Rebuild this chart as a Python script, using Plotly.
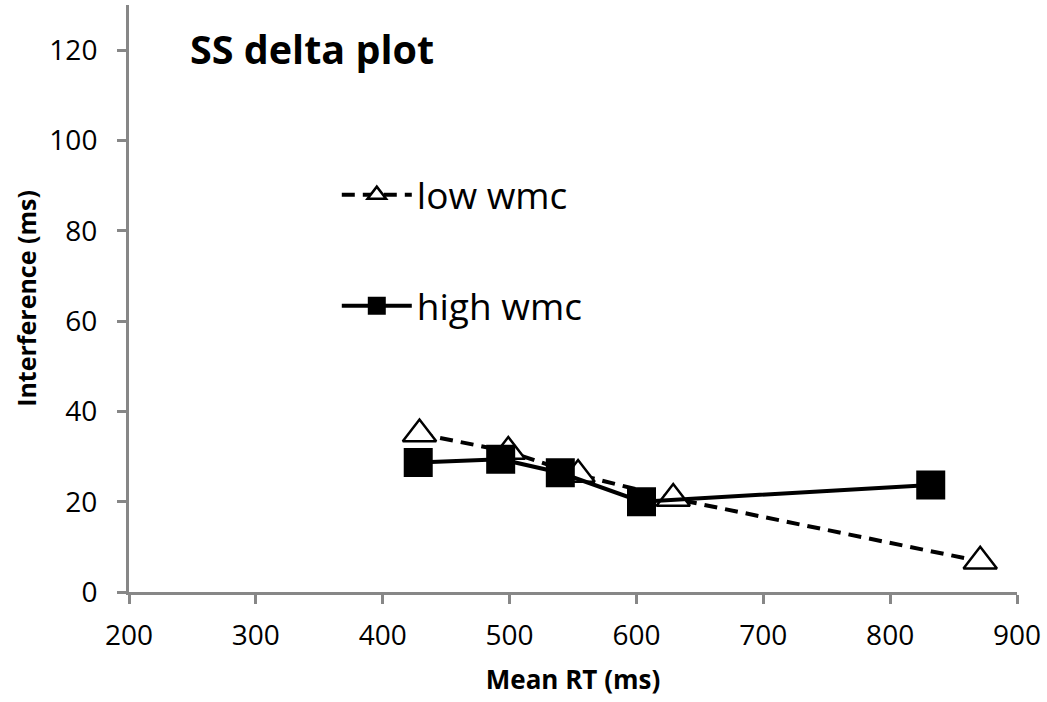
import plotly.graph_objects as go

# Data
low_wmc_rt = [429, 499, 554, 629, 871]
low_wmc_interf = [35.0, 31.1, 26.0, 20.7, 6.8]
high_wmc_rt = [428, 493, 540, 604, 832]
high_wmc_interf = [28.7, 29.4, 26.4, 20.0, 23.7]

x_ticks = [200, 300, 400, 500, 600, 700, 800, 900]
y_ticks = [0, 20, 40, 60, 80, 100, 120]

FONT = "Open Sans"
AXIS_GRAY = "#878787"

fig = go.Figure()
fig.add_trace(go.Scatter(
    x=low_wmc_rt, y=low_wmc_interf, name="low wmc", mode="lines+markers",
    legendgroup="low",
    line=dict(color="black", width=4, dash="13px,8px"),
    marker=dict(symbol="triangle-up", size=29, color="white",
                line=dict(color="black", width=2.5)),
))
fig.add_trace(go.Scatter(
    x=high_wmc_rt, y=high_wmc_interf, name="high wmc", mode="lines+markers",
    legendgroup="high",
    line=dict(color="black", width=4),
    marker=dict(symbol="square", size=27, color="black",
                line=dict(color="black", width=2)),
))

fig.update_layout(
    width=1047, height=702,
    margin=dict(l=129, r=30, t=5, b=110),
    paper_bgcolor="white", plot_bgcolor="white",
    font=dict(family=FONT, color="black", size=28),
    showlegend=True,
    legend=dict(x=0.234, y=0.729, xanchor="left", yanchor="top",
                font=dict(size=37, family=FONT), itemwidth=70,
                tracegroupgap=60, bgcolor="rgba(0,0,0,0)"),
    xaxis=dict(range=[200, 900], tickvals=x_ticks, showgrid=False, zeroline=False,
               showline=True, linecolor=AXIS_GRAY, linewidth=3,
               ticks="outside", ticklen=9, tickwidth=3, tickcolor=AXIS_GRAY,
               tickfont=dict(size=28), ticklabelstandoff=7,
               title=dict(text="<b>Mean RT (ms)</b>", font=dict(size=26), standoff=20)),
    yaxis=dict(range=[0, 130], tickvals=y_ticks, showgrid=False, zeroline=False,
               showline=True, linecolor=AXIS_GRAY, linewidth=3,
               ticks="outside", ticklen=9, tickwidth=3, tickcolor=AXIS_GRAY,
               tickfont=dict(size=28), ticklabelstandoff=14,
               title=dict(text="<b>Interference (ms)</b>", font=dict(size=25), standoff=6)),
    annotations=[dict(text="<b>SS delta plot</b>", x=0.066, y=0.925,
                      xref="paper", yref="paper", xanchor="left", yanchor="middle",
                      showarrow=False, font=dict(size=39.5, family=FONT))],
)

fig.write_html("out.html")
